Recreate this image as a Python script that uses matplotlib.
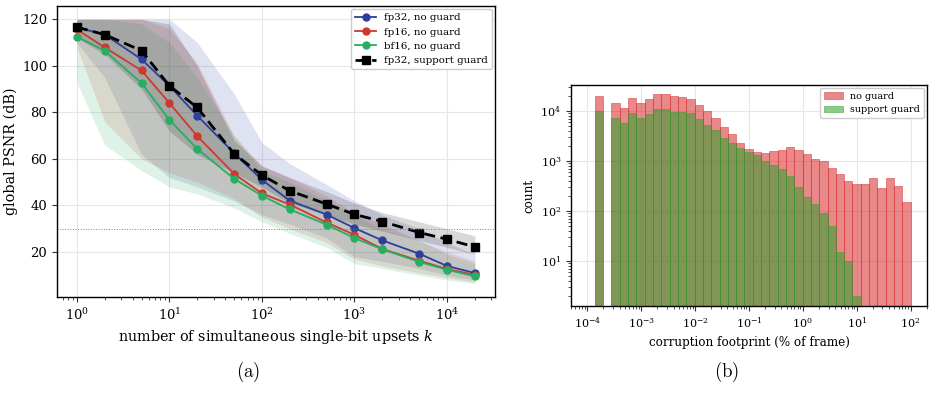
import matplotlib
matplotlib.use('Agg')
import matplotlib.pyplot as plt
import numpy as np

# ---- (a) PSNR vs number of bit upsets ----
k_values = [1, 2, 5, 10, 20, 50, 100, 200, 500, 1000, 2000, 5000, 10000, 20000]

fp32_mean = [116.5, 113.4, 102.8, 91.4, 78.6, 62.5, 51.0, 42.1, 36.1, 30.3, 25.0, 19.3, 14.0, 11.0]
fp16_mean = [115.6, 107.9, 98.0, 84.0, 69.8, 53.6, 45.2, 40.4, 32.7, 27.4, 21.3, 16.3, 12.7, 10.2]
bf16_mean = [112.5, 106.5, 92.6, 76.8, 64.3, 51.5, 44.2, 38.3, 31.8, 26.0, 21.2, 15.8, 12.4, 9.6]
guard_mean = [116.6, 113.4, 106.5, 91.4, 82.1, 62.2, 53.0, 46.3, 40.6, 36.2, 33.1, 28.4, 25.5, 22.2]

fp32_lo = [110, 95, 62, 52, 48, 42, 36, 32, 26, 18, 16, 13, 10, 8]
fp32_hi = [120, 120, 120, 120, 110, 88, 67, 58, 49, 42, 36, 30, 24, 19]
fp16_lo = [108, 76, 60, 54, 50, 43, 35, 30, 24, 17, 14, 11, 9, 7]
fp16_hi = [120, 120, 120, 116, 101, 70, 57, 52, 44, 37, 32, 25, 20, 16]
bf16_lo = [93, 66, 55, 48, 45, 39, 33, 28, 22, 15, 13, 10, 8, 6.5]
bf16_hi = [120, 120, 118, 110, 95, 70, 55, 50, 42, 36, 30, 25, 19, 15]
guard_lo = [112, 105, 90, 72, 62, 54, 48, 41, 36, 32, 29, 25, 22, 19]
guard_hi = [120, 120, 120, 118, 100, 68, 57, 52, 46, 41, 37, 33, 30, 27]

psnr_threshold = 30

# ---- (b) corruption footprint histogram ----
n_bins = 38
footprint_min = 100 / 720000  # one pixel, in % of frame
footprint_max = 100

no_guard_counts = [19700, 0, 14300, 11300, 18000, 14300, 17200, 21600, 21600, 19700,
                   18800, 17200, 13000, 9860, 7140, 4710, 3410, 2250, 1710, 1490,
                   1420, 1560, 1680, 1870, 1630, 1355, 1110, 980, 708, 537,
                   389, 339, 339, 447, 282, 447, 310, 148]
guard_counts = [9860, 0, 7140, 5750, 9120, 7140, 8590, 10800, 10800, 9420,
                9420, 9120, 6820, 5160, 4100, 2840, 2250, 1790, 1490, 1290,
                1010, 815, 678, 490, 295, 186, 135, 89, 49, 15,
                10, 2, 0, 0, 0, 0, 0, 0]

BLUE = '#2c3f9c'
RED = '#cc3a2f'
GREEN = '#27ae60'
GRID = '#e6e6e6'


def style_axes(ax, tick_size):
    ax.grid(True, which='major', color=GRID, linewidth=0.8)
    ax.set_axisbelow(True)
    for spine in ax.spines.values():
        spine.set_color('black')
        spine.set_linewidth(1.0)
    ax.tick_params(which='both', direction='out', labelsize=tick_size, color='#333333')


def plot_psnr(ax):
    series = [
        (fp32_mean, fp32_lo, fp32_hi, BLUE, 'fp32, no guard'),
        (fp16_mean, fp16_lo, fp16_hi, RED, 'fp16, no guard'),
        (bf16_mean, bf16_lo, bf16_hi, GREEN, 'bf16, no guard'),
    ]
    for mean, lo, hi, color, label in series:
        ax.fill_between(k_values, lo, hi, color=color, alpha=0.15, linewidth=0)
        ax.plot(k_values, mean, '-o', color=color, lw=1.3, ms=5, label=label)
    ax.fill_between(k_values, guard_lo, guard_hi, color='black', alpha=0.15, linewidth=0)
    ax.plot(k_values, guard_mean, '--s', color='black', lw=2.0, ms=5.5,
            dashes=(4, 2), label='fp32, support guard')
    ax.axhline(psnr_threshold, color='gray', lw=0.7, ls=':')

    ax.set_xscale('log')
    ax.set_xlim(0.61, 33000)
    ax.set_ylim(0.7, 125.7)
    ax.set_yticks([20, 40, 60, 80, 100, 120])
    style_axes(ax, 9.5)
    ax.set_xlabel('number of simultaneous single-bit upsets $k$', fontsize=10.4)
    ax.set_ylabel('global PSNR (dB)', fontsize=10.4, labelpad=3)
    ax.legend(loc='upper right', fontsize=7.4, framealpha=1, edgecolor='#cccccc',
              handlelength=2.0, borderaxespad=0.3, labelspacing=0.5)


def plot_footprint(ax):
    edges = np.logspace(np.log10(footprint_min), np.log10(footprint_max), n_bins + 1)
    centers = np.sqrt(edges[:-1] * edges[1:])
    ax.hist(centers, bins=edges, weights=no_guard_counts, color='tab:red', alpha=0.55,
            edgecolor='tab:red', linewidth=0.6, label='no guard')
    ax.hist(centers, bins=edges, weights=guard_counts, color='tab:green', alpha=0.55,
            edgecolor='tab:green', linewidth=0.6, label='support guard')
    ax.set_xscale('log')
    ax.set_yscale('log')
    ax.set_xlim(5e-5, 201)
    ax.set_ylim(1.26, 3.3e4)
    style_axes(ax, 8)
    ax.set_xlabel('corruption footprint (% of frame)', fontsize=8.6)
    ax.set_ylabel('count', fontsize=8.6)
    ax.legend(loc='upper right', fontsize=6.9, framealpha=1, edgecolor='#cccccc',
              borderaxespad=0.3)


def main():
    plt.rcParams['font.family'] = ['DejaVu Serif']
    plt.rcParams['mathtext.fontset'] = 'dejavuserif'

    fig = plt.figure(figsize=(9.34, 4.07), dpi=100)
    ax_a = fig.add_axes([0.0610, 0.2703, 0.4690, 0.7150])
    ax_b = fig.add_axes([0.6113, 0.2482, 0.3812, 0.5430])

    plot_psnr(ax_a)
    plot_footprint(ax_b)

    fig.text(0.2655, 0.086, r'$\mathrm{(a)}$', ha='center', va='center', fontsize=13.5,
             math_fontfamily='cm')
    fig.text(0.778, 0.086, r'$\mathrm{(b)}$', ha='center', va='center', fontsize=13.5,
             math_fontfamily='cm')

    fig.savefig('out.png', dpi=100)


if __name__ == '__main__':
    main()
